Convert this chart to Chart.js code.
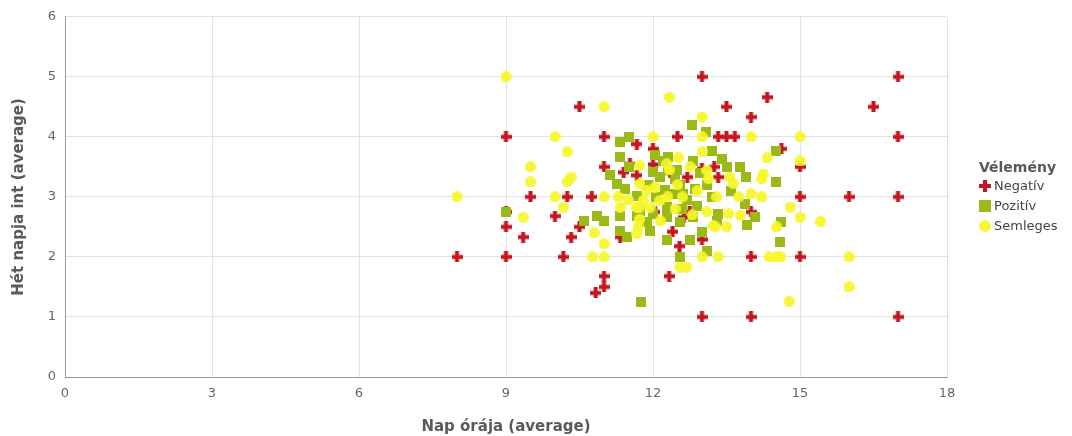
<!DOCTYPE html>
<html>
<head>
<meta charset="utf-8">
<script src="https://cdn.jsdelivr.net/npm/chart.js@4/dist/chart.umd.min.js"></script>
<style>
  html, body { margin: 0; padding: 0; background: #fff; }
  #wrap { position: relative; width: 1072px; height: 436px; }
  #legend { position: absolute; left: 979px; top: 158px; font-family: 'DejaVu Sans', sans-serif; }
  #legend .title { font-size: 14px; font-weight: bold; color: #585858; height: 18px; line-height: 18px; }
  #legend .item { font-size: 13px; color: #444; height: 20px; line-height: 20px; white-space: nowrap; }
  #legend canvas { vertical-align: middle; margin: 0 3px 2px 0; }
</style>
</head>
<body>
<div id="wrap"><canvas id="chart"></canvas><div id="legend"></div></div>
<script>
// series names (legend order)
var seriesNames = ['Negatív', 'Pozitív', 'Semleges'];
var legendTitle = 'Vélemény';
var xTitle = 'Nap órája (average)';
var yTitle = 'Hét napja int (average)';

// Negatív
var negX = [8, 9, 9, 9, 9, 9.35, 10, 10.33, 10.5, 10.17, 11, 11, 10.83, 11.33, 9.5, 10.25, 10.75, 10.5, 11, 11,
  11.67, 11.4, 11.67, 12, 12, 11.53, 13, 14.33, 13.5, 14, 12.5, 13.33, 13.5, 13.67, 14.62, 15, 13.25, 13.33, 13, 12.7,
  15, 16, 17, 17, 16.5, 17, 15, 17, 14, 12.4, 12.54, 13, 14, 12.33, 13, 14, 12.04, 12.63, 12.75, 12.35];
var negY = [2, 4, 2.75, 2.5, 2, 2.33, 2.68, 2.33, 2.5, 2, 1.68, 1.5, 1.4, 2.33, 3, 3, 3, 4.5, 4, 3.5,
  3.88, 3.41, 3.36, 3.8, 3.54, 3.55, 5, 4.66, 4.5, 4.33, 4, 4, 4, 4, 3.8, 3.5, 3.5, 3.33, 3.47, 3.33,
  3, 3, 3, 5, 4.5, 4, 2, 1, 2.75, 2.42, 2.18, 2.29, 2, 1.68, 1, 1, 2.75, 2.66, 2.75, 3.4];

// Pozitív
var pozX = [9, 10.6, 10.85, 11, 11.33, 11.33, 11.46, 11.75, 11.33, 11.5, 11.33, 11.12, 11.26, 11.43, 12.8, 13.08, 13.2, 14.52, 13.4, 13.5,
  13.78, 13.9, 14.52, 12.31, 12.48, 12.82, 12.86, 12.62, 12.41, 13.88, 14.62, 14.6, 14.08, 13.91, 13.01, 12.29, 12.76, 13.11, 12.55, 11.67,
  11.73, 11.87, 11.94, 12, 13.3, 13.33, 12.82, 12.55, 12.28, 11.5, 11.67, 12, 12.14, 12.07, 12.24, 12.28, 12.3, 12.45, 12.55, 12.7,
  12.9, 13.1, 12.2, 11.9, 12.6, 13.2, 12.05, 13.6, 12.95];
var pozY = [2.75, 2.6, 2.69, 2.6, 2.69, 2.44, 2.34, 1.25, 3.91, 4, 3.66, 3.36, 3.22, 3.13, 4.2, 4.08, 3.76, 3.76, 3.63, 3.5,
  3.5, 3.33, 3.25, 3.66, 3.44, 3.6, 3.13, 3.05, 3.05, 2.89, 2.59, 2.25, 2.66, 2.54, 2.42, 2.28, 2.29, 2.1, 2, 2.69,
  2.77, 2.58, 2.44, 2.72, 2.6, 2.72, 2.66, 2.58, 2.66, 3.5, 3.02, 3.41, 3.33, 3, 3.11, 2.83, 3.45, 3.3, 3.2, 2.95,
  2.85, 3.2, 3.6, 3.2, 2.8, 3, 3.7, 3.1, 3.4];

// Semleges
var semX = [8, 9, 9.35, 10.8, 11, 10.77, 11, 10, 11, 11.29, 11, 10, 10.25, 9.5, 9.5, 10.25, 10.33, 10.17, 12, 12.28,
  12.33, 13, 14, 13, 15, 13, 14.33, 15, 14.25, 14.22, 12.52, 12.76, 13.1, 13.13, 13.57, 13.64, 14.22, 14.8, 15, 15.42,
  16, 16, 14.78, 14.6, 14.52, 12.55, 12.69, 13, 13.33, 14.37, 14.52, 13.23, 13.5, 13.54, 13.78, 13.27, 11.73, 11.73, 11.7, 11.67,
  11.73, 11.87, 11.8, 12.04, 12.14, 11.94, 11.33, 11.67, 11.73, 12.33, 12.5, 12.3, 12.6, 12.9, 12.45, 12.8, 13.3, 13.75, 14, 12.15,
  13.1, 11.5];
var semY = [3, 5, 2.66, 2.4, 2.22, 2, 2, 3, 3, 3, 4.5, 4, 3.75, 3.5, 3.25, 3.25, 3.33, 2.83, 4, 3.55,
  4.66, 4.33, 4, 4, 4, 3.75, 3.65, 3.6, 3.38, 3.3, 3.66, 3.5, 3.44, 3.3, 3.33, 3.22, 3, 2.83, 2.66, 2.59,
  2, 1.5, 1.26, 2, 2.5, 1.83, 1.83, 2, 2, 2, 2, 2.52, 2.5, 2.72, 2.69, 2.5, 2.83, 2.63, 2.5, 2.39,
  3.22, 3.11, 2.94, 3.16, 2.94, 2.83, 2.83, 2.83, 3.52, 3.45, 3.2, 3, 3, 3.1, 2.8, 2.7, 3, 3, 3.05, 2.6,
  2.75, 2.95];

function pts(xs, ys) {
  return xs.map(function(x, i) { return { x: x, y: ys[i] }; });
}

// marker images
function mark(kind, size, color) {
  var c = document.createElement('canvas');
  c.width = size; c.height = size;
  var g = c.getContext('2d');
  g.fillStyle = color;
  if (kind == 'cross') {
    var t = Math.round(size * 0.36);
    var o = (size - t) / 2;
    g.fillRect(o, 0, t, size);
    g.fillRect(0, o, size, t);
  } else if (kind == 'rect') {
    g.fillRect(0, 0, size, size);
  } else {
    g.beginPath();
    g.arc(size / 2, size / 2, size / 2, 0, Math.PI * 2);
    g.fill();
  }
  return c;
}

var colors = ['#c3161f', '#9cba17', 'rgba(246,246,40,0.92)'];
var kinds = ['cross', 'rect', 'circle'];
var markers = kinds.map(function(k, i) { return mark(k, i == 1 ? 10 : 11, colors[i]); });

var data = [pts(negX, negY), pts(pozX, pozY), pts(semX, semY)];

var datasets = seriesNames.map(function(name, i) {
  return {
    label: name,
    data: data[i],
    pointStyle: markers[i],
    pointRadius: 5,
    backgroundColor: colors[i],
    borderColor: colors[i],
    order: 2 - i
  };
});

// legend
var lg = document.getElementById('legend');
var t = document.createElement('div');
t.className = 'title';
t.textContent = legendTitle;
lg.appendChild(t);
seriesNames.forEach(function(name, i) {
  var it = document.createElement('div');
  it.className = 'item';
  it.appendChild(mark(kinds[i], 12, colors[i]));
  it.appendChild(document.createTextNode(name));
  lg.appendChild(it);
});

new Chart(document.getElementById('chart'), {
  type: 'scatter',
  data: { datasets: datasets },
  options: {
    responsive: true,
    maintainAspectRatio: false,
    animation: false,
    events: [],
    layout: { padding: { top: 16, right: 125 } },
    scales: {
      x: {
        min: 0, max: 18,
        ticks: { stepSize: 3, color: '#666', padding: 9, font: { family: 'DejaVu Sans', size: 13 } },
        grid: { color: '#e2e2e2', drawTicks: false },
        border: { color: '#9a9a9a' },
        title: { display: true, text: xTitle, color: '#5a5a5a', padding: { top: 6, bottom: 0 }, font: { family: 'DejaVu Sans', size: 15, weight: 'bold' } },
        afterFit: function(s) { s.height = 59; }
      },
      y: {
        min: 0, max: 6,
        ticks: { stepSize: 1, color: '#666', padding: 9, font: { family: 'DejaVu Sans', size: 13 } },
        grid: { color: '#e2e2e2', drawTicks: false },
        border: { color: '#9a9a9a' },
        title: { display: true, text: yTitle, color: '#5a5a5a', padding: { top: 10, bottom: 0 }, font: { family: 'DejaVu Sans', size: 15, weight: 'bold' } },
        afterFit: function(s) { s.width = 65; }
      }
    },
    plugins: {
      tooltip: { enabled: false },
      legend: { display: false }
    }
  }
});
</script>
</body>
</html>
